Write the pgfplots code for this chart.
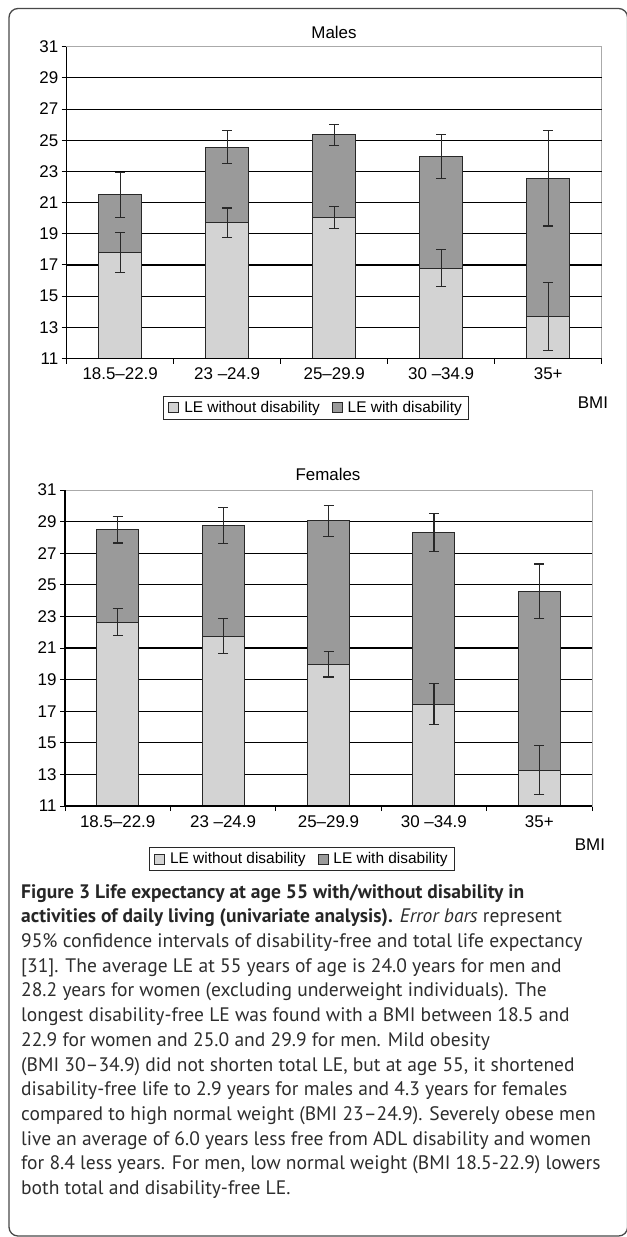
\documentclass[border=0pt]{standalone}
\usepackage{pgfplots}
\pgfplotsset{compat=1.18}
\usepackage{pgfplotstable}
\usepackage{fontspec}
\setmainfont{Liberation Sans}
\newfontfamily\capfont{PT Sans}
\definecolor{lightbar}{RGB}{211,211,211}
\definecolor{darkbar}{RGB}{154,154,154}
\definecolor{edge}{RGB}{40,40,40}
\definecolor{framegray}{RGB}{170,170,170}
\definecolor{captext}{RGB}{45,45,45}

% x light light+ light- total total+ total-
\pgfplotstableread{
x light lp lm total tp tm
0 17.8 1.30 1.30 21.5 1.45 1.45
1 19.7 0.95 0.95 24.55 1.05 1.05
2 20.05 0.70 0.70 25.35 0.65 0.70
3 16.8 1.20 1.20 23.95 1.40 1.40
4 13.7 2.20 2.20 22.55 3.05 3.05
}\males
\pgfplotstableread{
x light lp lm total tp tm
0 22.6 0.90 0.80 28.5 0.80 0.85
1 21.75 1.10 1.10 28.75 1.12 1.12
2 19.97 0.83 0.80 29.05 0.97 0.97
3 17.45 1.30 1.30 28.33 1.17 1.20
4 13.27 1.58 1.54 24.55 1.77 1.70
}\females

\pgfplotsset{
  bmiaxis/.style={
    scale only axis,
    xmin=-0.5, xmax=4.5, ymin=11, ymax=31,
    xtick={-0.5,0.5,...,4.5},
    x tick label as interval,
    xticklabels={18.5–22.9, 23 –24.9, 25–29.9, 30 –34.9, 35+},
    ytick={11,13,...,31},
    extra y ticks={13,15,...,29},
    extra y tick labels={},
    extra y tick style={grid=major, major tick length=0pt},
    grid style={black, line width=1.1bp},
    tick align=outside, tick pos=left,
    major tick length=5bp,
    tick style={black, line width=1bp},
    axis line style={framegray, line width=1bp},
    yticklabel style={/pgf/number format/assume math mode=true},
    ticklabel style={font=\fontsize{17}{19}\selectfont, black},
    xticklabel style={yshift=-1bp},
    legend columns=2,
    legend cell align=left,
    legend style={draw=edge, line width=1bp, font=\fontsize{15.5}{17}\selectfont,
      inner xsep=5bp, inner ysep=3bp, anchor=north west,
      /tikz/every odd column/.append style={column sep=3bp},
      /tikz/every even column/.append style={column sep=10bp}},
    legend image code/.code={\draw[##1, line width=0.8bp] (0bp,-5bp) rectangle (10bp,5bp);},
    after end axis/.code={\draw[black, line width=1.2bp] (rel axis cs:0,1) -- (rel axis cs:0,0) -- (rel axis cs:1,0);},
  },
  totbar/.style={ybar, bar width=0.4, bar shift=0pt, fill=darkbar, draw=edge, line width=1bp, forget plot},
  lightbarstyle/.style={ybar, bar width=0.4, bar shift=0pt, fill=lightbar, draw=edge, line width=1bp, forget plot},
  errs/.style={draw=none, mark=none, forget plot,
    error bars/.cd, y dir=both, y explicit,
    error mark=-,
    error bar style={draw=edge, line width=1.2bp},
    error mark options={draw=edge, line width=1.2bp, mark size=5bp, rotate=90}},
}

\begin{document}
\begin{tikzpicture}
\useasboundingbox (0,0) rectangle (627bp,-1237bp);
\draw[edge!85, line width=1.3bp, rounded corners=9bp] (9bp,-8.5bp) rectangle (627.6bp,-1236bp);

% ---------------- Males
\begin{axis}[bmiaxis, width=535bp, height=311.8bp, at={(66.7bp,-358.5bp)}, anchor=south west,
  legend style={at={(0.18,-0.12)}}]
\addplot[totbar] table[x=x, y=total]{\males};
\addplot[lightbarstyle] table[x=x, y=light]{\males};
\addplot[errs] table[x=x, y=total, y error plus=tp, y error minus=tm]{\males};
\addplot[errs] table[x=x, y=light, y error plus=lp, y error minus=lm]{\males};
\addlegendimage{fill=lightbar, draw=edge}
\addlegendentry{LE without disability}
\addlegendimage{fill=darkbar, draw=edge}
\addlegendentry{LE with disability}
\end{axis}
\node[font=\fontsize{17}{19}\selectfont] at (334bp,-32.7bp) {Males};
\node[font=\fontsize{17}{19}\selectfont] at (593bp,-403bp) {BMI};

% ---------------- Females
\begin{axis}[bmiaxis, width=527bp, height=316bp, at={(65bp,-806bp)}, anchor=south west,
  legend style={at={(0.159,-0.13)}}]
\addplot[totbar] table[x=x, y=total]{\females};
\addplot[lightbarstyle] table[x=x, y=light]{\females};
\addplot[errs] table[x=x, y=total, y error plus=tp, y error minus=tm]{\females};
\addplot[errs] table[x=x, y=light, y error plus=lp, y error minus=lm]{\females};
\addlegendimage{fill=lightbar, draw=edge}
\addlegendentry{LE without disability}
\addlegendimage{fill=darkbar, draw=edge}
\addlegendentry{LE with disability}
\end{axis}
\node[font=\fontsize{17}{19}\selectfont] at (328bp,-474bp) {Females};
\node[font=\fontsize{17}{19}\selectfont] at (590bp,-845bp) {BMI};

% ---------------- Caption
\node[anchor=north west, inner sep=0pt, align=left, text=captext,
  font=\capfont\fontsize{19.6}{24.8}\selectfont] at (21bp,-884bp) {%
{\bfseries\color{black!85} Figure 3 Life expectancy at age 55 with/without disability in}\\
{\bfseries\color{black!85} activities of daily living (univariate analysis).} \textit{Error bars} represent\\
95\% confidence intervals of disability-free and total life expectancy\\
{[31]}. The average LE at 55 years of age is 24.0 years for men and\\
28.2 years for women (excluding underweight individuals). The\\
longest disability-free LE was found with a BMI between 18.5 and\\
22.9 for women and 25.0 and 29.9 for men. Mild obesity\\
(BMI 30–34.9) did not shorten total LE, but at age 55, it shortened\\
disability-free life to 2.9 years for males and 4.3 years for females\\
compared to high normal weight (BMI 23–24.9). Severely obese men\\
live an average of 6.0 years less free from ADL disability and women\\
for 8.4 less years. For men, low normal weight (BMI 18.5-22.9) lowers\\
both total and disability-free LE.};
\end{tikzpicture}
\end{document}
